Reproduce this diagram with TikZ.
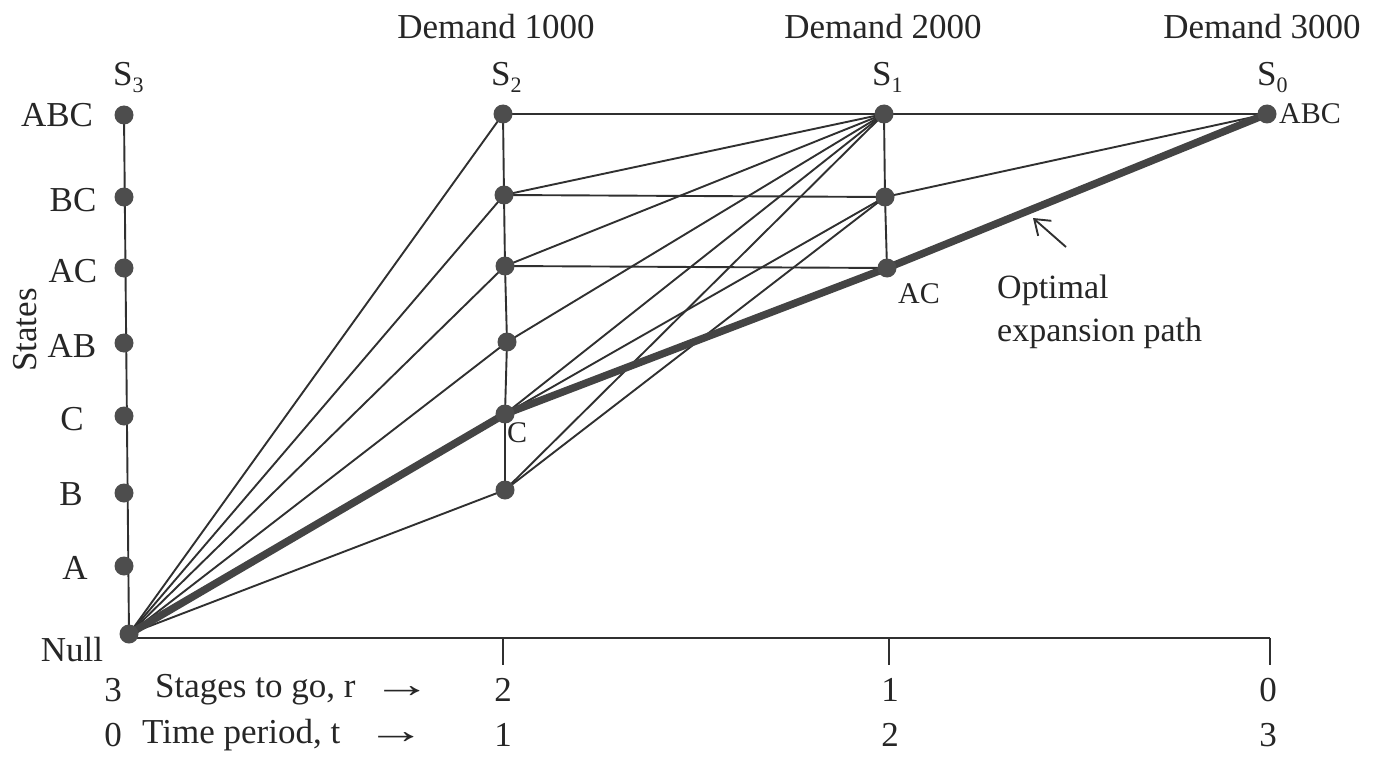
\documentclass[tikz,border=0pt]{standalone}
\usepackage{graphicx}
\usepackage{fontspec}
\setmainfont{Liberation Serif}
\usetikzlibrary{arrows.meta}
\definecolor{ln}{HTML}{303030}
\definecolor{dotc}{HTML}{4d4d4d}
\definecolor{thk}{HTML}{444444}
\newcommand{\lowsub}[1]{\raisebox{-0.2em}{\fontsize{22}{24}\selectfont #1}}
\newcommand{\bigarr}{\scalebox{1.7}[1.1]{→}}
\begin{document}
\begin{tikzpicture}[x=1pt,y=-1pt,
  dotn/.style={circle,fill=dotc,inner sep=0pt,minimum size=19pt},
  edge/.style={draw=ln,line width=1.9pt},
  opt/.style={draw=thk,line width=7.5pt,line cap=round},
  lbl/.style={font=\fontsize{35}{40}\selectfont,inner sep=0pt,text=black!85},
  plbl/.style={font=\fontsize{30}{34}\selectfont,inner sep=0pt,text=black!85}]
\useasboundingbox (0,0) rectangle (1379,757);
% positions
\coordinate (LNull) at (129,634);
\coordinate (LA) at (124,566);
\coordinate (LB) at (124,493);
\coordinate (LC) at (124,416);
\coordinate (LAB) at (124,343);
\coordinate (LAC) at (124,268);
\coordinate (LBC) at (124,197);
\coordinate (LABC) at (124,115);
\coordinate (MABC) at (503,114);
\coordinate (MBC) at (504,195);
\coordinate (MAC) at (505,266);
\coordinate (MAB) at (507,342);
\coordinate (MC) at (505,414);
\coordinate (MB) at (505,490);
\coordinate (RABC) at (884,114);
\coordinate (RBC) at (885,197);
\coordinate (RAC) at (887,268);
\coordinate (FABC) at (1267,114);
\coordinate (axend) at (1270,638);
\coordinate (axstart) at (129,638);
\coordinate (t2) at (503,638);
\coordinate (t1) at (889,638);
\coordinate (t0) at (1270,638);
\coordinate (t2b) at (503,665);
\coordinate (t1b) at (889,665);
\coordinate (t0b) at (1270,665);
% axis
\draw[edge] (axstart) -- (axend);
\draw[edge] (t2) -- (t2b);
\draw[edge] (t1) -- (t1b);
\draw[edge] (t0) -- (t0b);
% columns
\draw[edge] (LABC) -- (LNull);
\draw[edge] (MABC) -- (MBC) -- (MAC) -- (MAB) -- (MC) -- (MB);
\draw[edge] (RABC) -- (RBC) -- (RAC);
% stage 3 -> 2
\draw[edge] (LNull) -- (MABC);
\draw[edge] (LNull) -- (MBC);
\draw[edge] (LNull) -- (MAC);
\draw[edge] (LNull) -- (MAB);
\draw[edge] (LNull) -- (MB);
% stage 2 -> 1
\draw[edge] (MABC) -- (RABC);
\draw[edge] (MBC) -- (RABC);
\draw[edge] (MBC) -- (RBC);
\draw[edge] (MAC) -- (RABC);
\draw[edge] (MAC) -- (RAC);
\draw[edge] (MAB) -- (RABC);
\draw[edge] (MC) -- (RABC);
\draw[edge] (MC) -- (RBC);
\draw[edge] (MB) -- (RABC);
\draw[edge] (MB) -- (RBC);
% stage 1 -> 0
\draw[edge] (RABC) -- (FABC);
\draw[edge] (RBC) -- (FABC);
% optimal path
\draw[opt] (LNull) -- (MC) -- (RAC) -- (FABC);
% dots
\foreach \p in {LNull,LA,LB,LC,LAB,LAC,LBC,LABC,MABC,MBC,MAC,MAB,MC,MB,RABC,RBC,RAC,FABC}
  \node[dotn] (d\p) at (\p) {};
% left labels
\node[lbl] (tABC) at (57,115) {ABC};
\node[lbl] (tBC) at (73,200) {BC};
\node[lbl] (tAC) at (73,271) {AC};
\node[lbl] (tAB) at (72,346) {AB};
\node[lbl] (tC) at (72,419) {C};
\node[lbl] (tB) at (71,494) {B};
\node[lbl] (tA) at (75,568) {A};
\node[lbl] (tNull) at (72,650) {Null};
\node[lbl,rotate=90] (tStates) at (25,330) {States};
% column heads
\node[lbl,anchor=base west] (s3) at (113,86) {S\lowsub{3}};
\node[lbl,anchor=base west] (s2) at (491,86) {S\lowsub{2}};
\node[lbl,anchor=base west] (s1) at (872,86) {S\lowsub{1}};
\node[lbl,anchor=base west] (s0) at (1257,86) {S\lowsub{0}};
\node[lbl] (dem1) at (496,27) {Demand 1000};
\node[lbl] (dem2) at (883,27) {Demand 2000};
\node[lbl] (dem3) at (1262,27) {Demand 3000};
% point labels
\node[plbl] (pC) at (517,433) {C};
\node[plbl] (pAC) at (919,294) {AC};
\node[plbl,anchor=west] (pABC) at (1279,114) {ABC};
% optimal label
\node[lbl,anchor=north west,align=left,font=\fontsize{34}{43}\selectfont] (optl) at (997,275) {Optimal\\expansion path};
\coordinate (arrS) at (1066,247);
\coordinate (arrE) at (1033,218);
\draw[edge,-{Straight Barb[length=14pt,width=20pt]}] (arrS) -- (arrE);
% bottom rows
\node[lbl] (r3) at (113,690) {3};
\node[lbl,anchor=west] (rlab) at (155,690) {Stages to go, r \ \bigarr};
\node[lbl] (r2) at (503,690) {2};
\node[lbl] (r1) at (890,690) {1};
\node[lbl] (r0) at (1268,690) {0};
\node[lbl] (q0) at (113,735) {0};
\node[lbl,anchor=west] (qlab) at (142,735) {Time period, t \ \ \bigarr};
\node[lbl] (q1) at (503,735) {1};
\node[lbl] (q2) at (890,735) {2};
\node[lbl] (q3) at (1268,735) {3};
\end{tikzpicture}
\end{document}
